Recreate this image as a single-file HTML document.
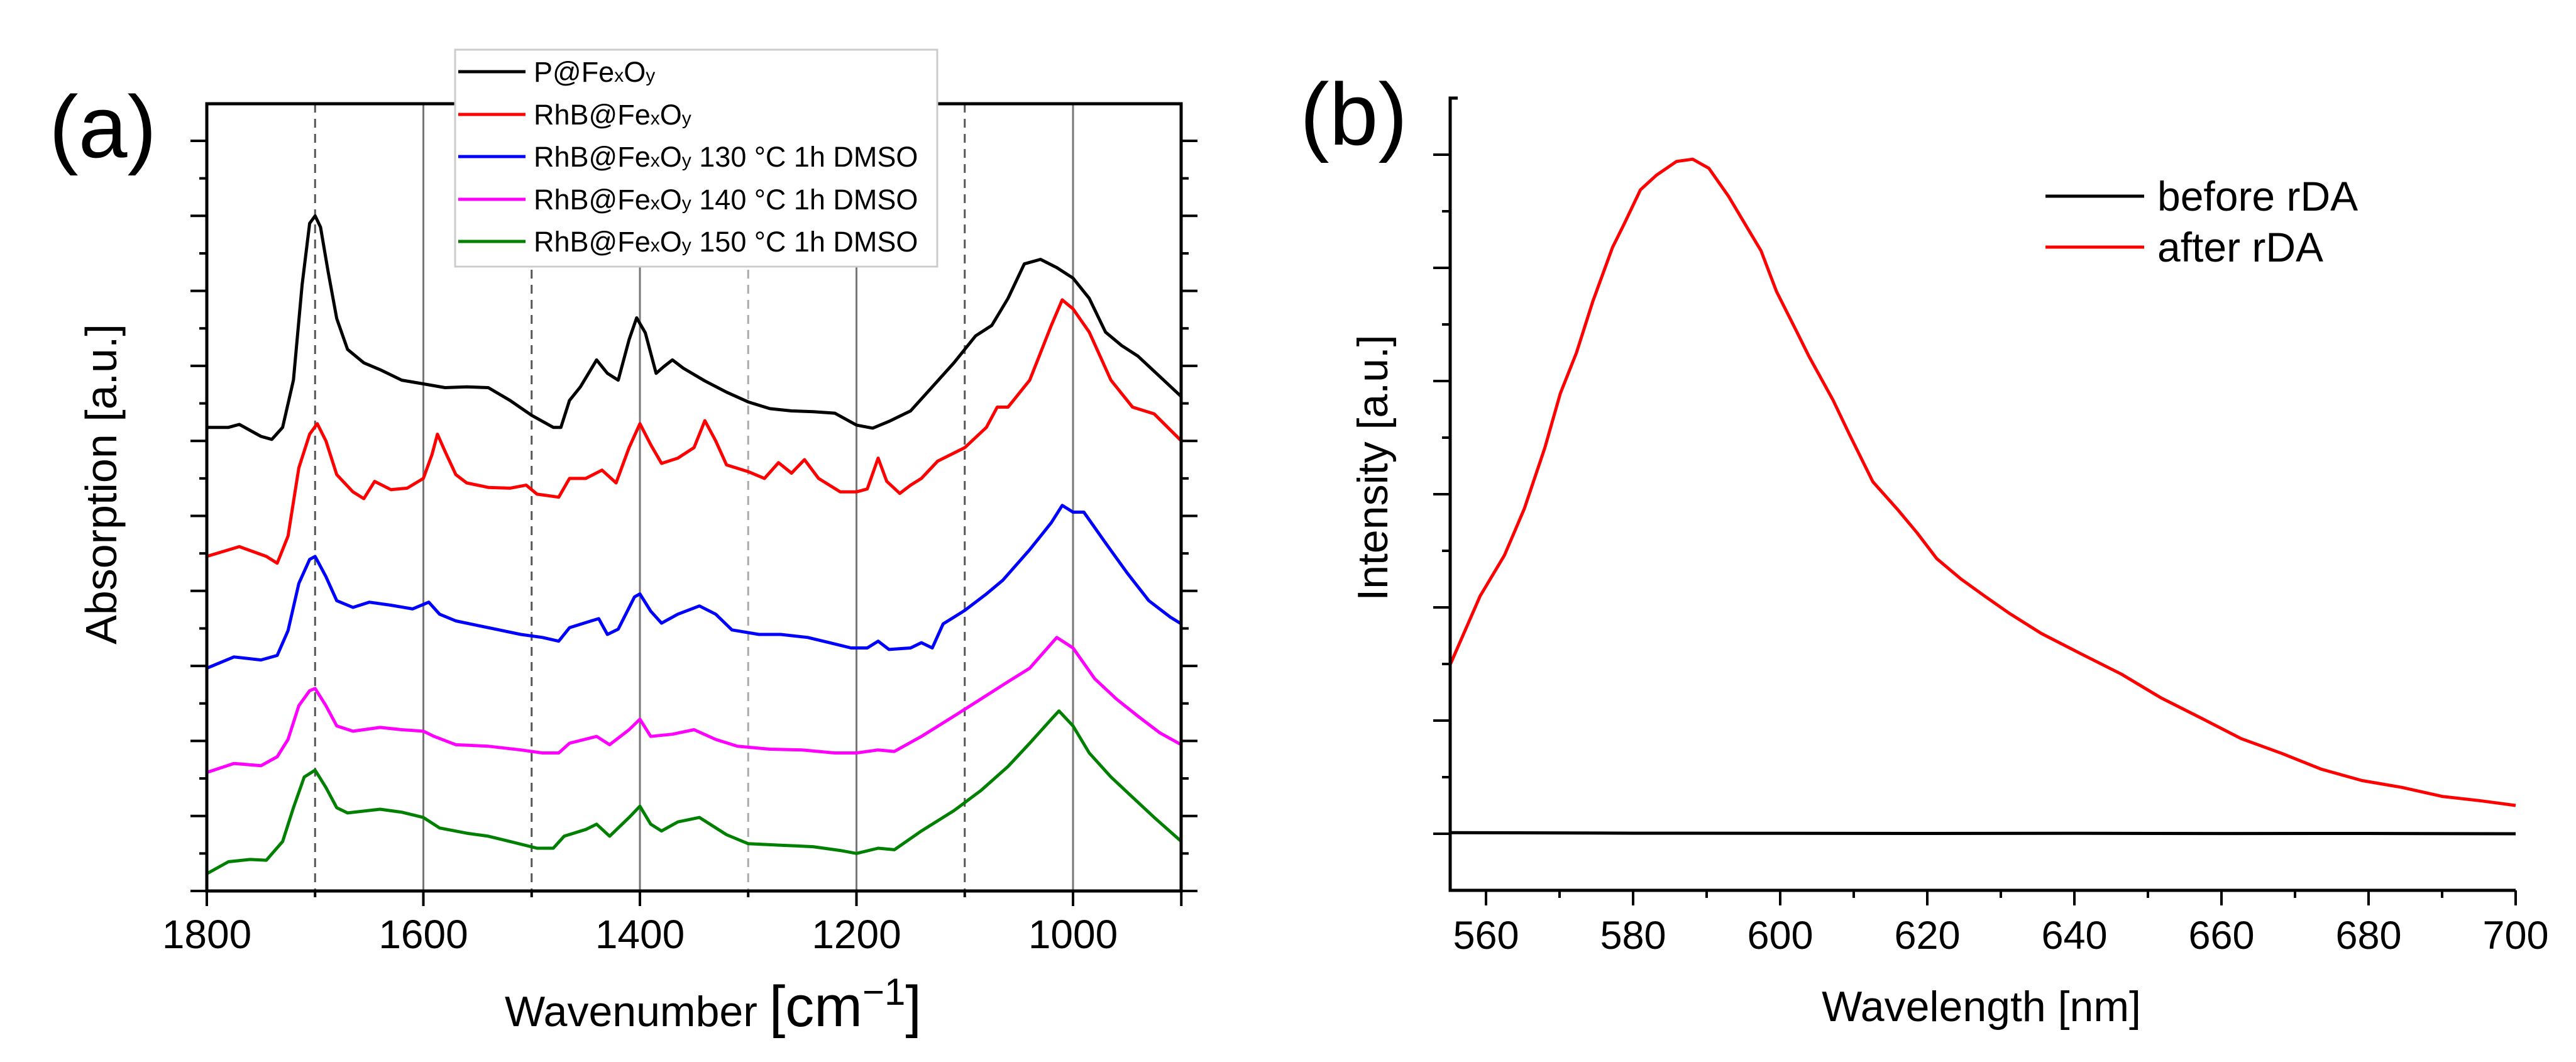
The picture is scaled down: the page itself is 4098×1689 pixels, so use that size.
<!DOCTYPE html>
<html><head><meta charset="utf-8"><style>
html,body{margin:0;padding:0;background:#fff;}
svg{display:block;font-family:"Liberation Sans",sans-serif;}
</style></head><body>
<svg id="fig" width="4098" height="1689" viewBox="0 0 4098 1689" xmlns="http://www.w3.org/2000/svg">
<rect width="4098" height="1689" fill="#fff"/>
<g id="pa"></g>
<g id="pb"></g>
</svg>
<script>
// ---------- Panel (a) data ----------
const kWn = [1800,1780,1770,1750,1740,1730,1720,1712,1705,1700,1695,1688,1680,1670,1655,1640,1620,1600,1580,1560,1540,1520,1500,1480,1473,1465,1455,1440,1430,1420,1410,1403,1395,1385,1378,1370,1360,1340,1320,1300,1280,1260,1240,1220,1200,1185,1170,1150,1130,1110,1090,1075,1060,1045,1030,1015,1000,985,970,955,940,920,900];
const kVal = [6.18,6.18,6.22,6.06,6.02,6.18,6.81,8.08,8.90,9.00,8.85,8.26,7.63,7.22,7.04,6.95,6.81,6.76,6.71,6.72,6.71,6.54,6.34,6.18,6.18,6.54,6.72,7.08,6.90,6.81,7.35,7.64,7.44,6.90,6.99,7.08,6.97,6.80,6.65,6.52,6.43,6.40,6.39,6.37,6.21,6.17,6.26,6.40,6.72,7.04,7.40,7.54,7.90,8.36,8.42,8.31,8.17,7.90,7.45,7.27,7.13,6.86,6.59];
const rWn = [1800,1770,1745,1735,1725,1715,1705,1698,1690,1680,1665,1655,1645,1630,1615,1600,1592,1587,1580,1570,1560,1540,1520,1505,1495,1475,1465,1450,1435,1422,1410,1400,1390,1380,1365,1350,1340,1330,1320,1300,1285,1272,1260,1248,1235,1215,1200,1190,1180,1172,1160,1150,1140,1125,1100,1080,1070,1060,1040,1020,1010,1000,985,965,945,925,900];
const rVal = [4.46,4.59,4.46,4.37,4.73,5.64,6.09,6.23,6.00,5.55,5.32,5.23,5.46,5.35,5.37,5.50,5.82,6.09,5.86,5.55,5.44,5.38,5.37,5.41,5.29,5.25,5.50,5.50,5.61,5.44,5.91,6.23,5.95,5.70,5.77,5.91,6.27,6.00,5.68,5.59,5.50,5.71,5.57,5.75,5.50,5.32,5.32,5.36,5.77,5.46,5.30,5.41,5.50,5.73,5.91,6.18,6.45,6.45,6.81,7.54,7.88,7.76,7.45,6.81,6.45,6.36,6.00];
const bWn = [1800,1775,1750,1735,1725,1715,1705,1700,1690,1680,1665,1650,1630,1610,1595,1585,1570,1550,1530,1510,1490,1475,1465,1445,1438,1430,1420,1405,1400,1390,1380,1365,1345,1330,1315,1290,1270,1245,1225,1205,1190,1180,1170,1150,1140,1130,1120,1100,1080,1065,1040,1020,1010,1000,990,970,950,930,910,900];
const bVal = [2.97,3.12,3.08,3.14,3.47,4.10,4.42,4.46,4.19,3.87,3.78,3.85,3.81,3.76,3.85,3.69,3.60,3.54,3.48,3.42,3.38,3.33,3.51,3.60,3.63,3.42,3.49,3.92,3.96,3.73,3.57,3.69,3.80,3.69,3.48,3.42,3.42,3.38,3.31,3.24,3.24,3.33,3.22,3.24,3.31,3.24,3.56,3.74,3.96,4.14,4.55,4.91,5.14,5.05,5.05,4.64,4.24,3.87,3.65,3.56];
const mWn = [1800,1775,1750,1735,1725,1715,1705,1700,1690,1680,1665,1640,1620,1600,1590,1570,1540,1510,1490,1475,1465,1440,1428,1410,1400,1390,1370,1350,1330,1310,1280,1250,1220,1200,1180,1165,1140,1110,1085,1060,1040,1015,1000,980,960,940,920,900];
const mVal = [1.58,1.70,1.67,1.79,2.02,2.47,2.67,2.70,2.47,2.20,2.13,2.18,2.15,2.13,2.06,1.95,1.93,1.88,1.84,1.84,1.97,2.06,1.95,2.15,2.29,2.06,2.09,2.15,2.02,1.93,1.89,1.88,1.84,1.84,1.88,1.86,2.06,2.33,2.56,2.79,2.97,3.38,3.24,2.83,2.56,2.33,2.11,1.95];
const gWn = [1800,1780,1760,1745,1730,1720,1710,1700,1690,1680,1670,1640,1620,1600,1585,1560,1540,1520,1495,1480,1470,1450,1440,1428,1410,1400,1390,1380,1365,1345,1320,1300,1270,1240,1215,1200,1180,1165,1140,1110,1085,1060,1040,1020,1013,1000,985,965,945,925,900];
const gVal = [0.23,0.39,0.42,0.41,0.66,1.11,1.52,1.61,1.38,1.11,1.04,1.09,1.05,0.98,0.84,0.77,0.73,0.66,0.57,0.57,0.73,0.82,0.89,0.73,0.98,1.13,0.89,0.80,0.92,0.98,0.75,0.63,0.61,0.59,0.54,0.50,0.57,0.55,0.80,1.07,1.34,1.66,1.97,2.29,2.40,2.20,1.84,1.52,1.25,0.98,0.66];
const aXTicks = [1800,1600,1400,1200,1000];
const aXTickLabels = ["1800","1600","1400","1200","1000"];
const aSolidGrid = [1600,1400,1200,1000];
const aDashGrid = [1700,1500,1100];
const aLightDashGrid = [1300];
const aLegendLabels = ["", " 130 °C 1h DMSO"," 140 °C 1h DMSO"," 150 °C 1h DMSO"];

// ---------- Panel (b) data ----------
const afterWl = [555.1,559.2,562.5,565.2,568,570.1,572.3,574.5,577.2,578.8,581,583.2,585.9,588.1,590.3,593,595.2,597.4,599.5,602.3,603.9,607.2,609.4,612.6,615.9,618.6,621.3,624.6,627.8,631.1,635.5,640.9,646.4,651.8,657.3,662.7,668.2,673.6,679.1,684.5,690,695.4,700];
const afterVal = [1.49,2.10,2.46,2.87,3.41,3.89,4.25,4.70,5.18,5.39,5.69,5.82,5.94,5.96,5.88,5.63,5.39,5.15,4.79,4.43,4.22,3.83,3.53,3.11,2.87,2.66,2.43,2.25,2.10,1.95,1.77,1.59,1.41,1.20,1.02,0.84,0.71,0.57,0.47,0.41,0.33,0.29,0.25];
const beforeWl = [555.1,580,600,620,640,660,680,700];
const beforeVal = [0.01,0.005,0.004,0.003,0.004,0.002,0.003,0.0];
const bXTicks = [560,580,600,620,640,660,680,700];
const bXTickLabels = ["560","580","600","620","640","660","680","700"];

const NS = "http://www.w3.org/2000/svg";
function mk(parent, tag, attrs, text){
  const e = document.createElementNS(NS, tag);
  for (const k in attrs) e.setAttribute(k, attrs[k]);
  if (text !== undefined) e.textContent = text;
  parent.appendChild(e); return e;
}
// axis functions
const ax = { x0:329, x1:1879, y0:1417, y1:165 };
const aX = v => ax.x0 + (1800 - v) * 1.7225;
const aY = v => ax.y0 - v * 119.3;
const bx = { x0:2307, x1:4002, y0:1416, y1:156 };
const bX = v => 2364 + (v - 560) * 11.7;
const bY = v => 1326 - v * 180;

const pa = document.getElementById('pa');
// grid lines panel a
aSolidGrid.forEach(v=>{
  const l = mk(pa,'line',{x1:aX(v),x2:aX(v),y1:ax.y1,y2:ax.y0,stroke:'#777','stroke-width':3});
  
  
});
aDashGrid.forEach(v=>{
  const l = mk(pa,'line',{x1:aX(v),x2:aX(v),y1:ax.y1,y2:ax.y0,stroke:'#555','stroke-width':3,'stroke-dasharray':'14,10'});
  
  
});
aLightDashGrid.forEach(v=>{
  const l = mk(pa,'line',{x1:aX(v),x2:aX(v),y1:ax.y1,y2:ax.y0,stroke:'#aaa','stroke-width':3,'stroke-dasharray':'14,10'});
  
  
});
// series a
const aSeries = [[kWn,kVal,'#000','series-p-fexoy'],[rWn,rVal,'#ff0000','series-rhb-fexoy'],[bWn,bVal,'#0000ff','series-130c'],[mWn,mVal,'#ff00ff','series-140c'],[gWn,gVal,'#008000','series-150c']];
aSeries.forEach(s=>{
  const d = s[0].map((w,i)=>(i?'L':'M')+aX(w).toFixed(1)+','+aY(s[1][i]).toFixed(1)).join(' ');
  const p = mk(pa,'path',{d:d,fill:'none',stroke:s[2],'stroke-width':5,'stroke-linejoin':'round'});
  
  
});
// frame a
const fa = mk(pa,'rect',{x:ax.x0,y:ax.y1,width:ax.x1-ax.x0,height:ax.y0-ax.y1,fill:'none',stroke:'#000','stroke-width':5});


// y ticks a (left and right, outward)
for(let i=0;i<=21;i++){
  const y = ax.y0 - i*59.65;
  if (y < ax.y1 + 5) break;
  const len = (i%2===0)?26:12;
  const t1 = mk(pa,'line',{x1:ax.x0-len,x2:ax.x0,y1:y,y2:y,stroke:'#000','stroke-width':4});
  
  
  const t2 = mk(pa,'line',{x1:ax.x1,x2:ax.x1+len,y1:y,y2:y,stroke:'#000','stroke-width':4});
  
  
}
// x ticks a
for(let v=1800; v>=900; v-=100){
  const major = aXTicks.includes(v) || v===900;
  const t = mk(pa,'line',{x1:aX(v),x2:aX(v),y1:ax.y0,y2:ax.y0+(major?24:10),stroke:'#000','stroke-width':4});
  
  
}
aXTicks.forEach((v,i)=>{
  const t = mk(pa,'text',{x:aX(v),y:1508,'font-size':64,'text-anchor':'middle'},aXTickLabels[i]);
  
  
});
// titles a
const xt = mk(pa,'text',{x:803,y:1632,'font-size':68});


mk(xt,'tspan',{},'Wavenumber ');
mk(xt,'tspan',{'font-size':92},'[cm');
mk(xt,'tspan',{'font-size':60,dy:-34},'−1');
mk(xt,'tspan',{'font-size':92,dy:34},']');
const yt = mk(pa,'text',{x:0,y:0,'font-size':70,'text-anchor':'middle',transform:'translate(185,770) rotate(-90)'},'Absorption [a.u.]');


const la = mk(pa,'text',{x:78,y:250,'font-size':140},'(a)');


// legend a
const lg = mk(pa,'g',{});


mk(lg,'rect',{x:724,y:79,width:767,height:345,fill:'#fff',stroke:'#ccc','stroke-width':3});
const legRows = [114,182,249,317,384];
aSeries.forEach((s,i)=>{
  const e = mk(lg,'g',{});
  
  
  mk(e,'line',{x1:729,x2:836,y1:legRows[i],y2:legRows[i],stroke:s[2],'stroke-width':5});
  const t = mk(e,'text',{x:849,y:legRows[i]+16,'font-size':45});
  mk(t,'tspan',{},i===0?'P@Fe':'RhB@Fe');
  mk(t,'tspan',{'font-size':30},'x');
  mk(t,'tspan',{},'O');
  mk(t,'tspan',{'font-size':30},'y');
  if(i>=2) mk(t,'tspan',{},aLegendLabels[i-1]);
});

// ---------- Panel b ----------
const pb = document.getElementById('pb');
[[beforeWl,beforeVal,'#000','series-before-rda'],[afterWl,afterVal,'#ff0000','series-after-rda']].forEach(s=>{
  const d = s[0].map((w,i)=>(i?'L':'M')+bX(w).toFixed(1)+','+bY(s[1][i]).toFixed(1)).join(' ');
  const p = mk(pb,'path',{d:d,fill:'none',stroke:s[2],'stroke-width':5,'stroke-linejoin':'round'});
  
  
});
const axl = mk(pb,'path',{d:`M${bx.x0+12},${bx.y1} L${bx.x0},${bx.y1} L${bx.x0},${bx.y0} L${bx.x1},${bx.y0}`,fill:'none',stroke:'#000','stroke-width':5});


for(let i=-1;i<=13;i++){
  const y = 1326 - i*90;
  if (y > bx.y0 - 5 || y < bx.y1 + 20) continue;
  const len = (i%2===0)?27:13;
  const t = mk(pb,'line',{x1:bx.x0-len,x2:bx.x0,y1:y,y2:y,stroke:'#000','stroke-width':4});
  
  
}
for(let v=560; v<=700; v+=10){
  const major = v%20===0;
  const t = mk(pb,'line',{x1:bX(v),x2:bX(v),y1:bx.y0,y2:bx.y0+(major?24:12),stroke:'#000','stroke-width':4});
  
  
}
bXTicks.forEach((v,i)=>{
  const t = mk(pb,'text',{x:bX(v),y:1509,'font-size':63,'text-anchor':'middle'},bXTickLabels[i]);
  
  
});
const xtb = mk(pb,'text',{x:3152,y:1624,'font-size':68,'text-anchor':'middle'},'Wavelength [nm]');


const ytb = mk(pb,'text',{x:0,y:0,'font-size':68,'text-anchor':'middle',transform:'translate(2207,744) rotate(-90)'},'Intensity [a.u.]');


const lb = mk(pb,'text',{x:2068,y:230,'font-size':140},'(b)');


[['before rDA','#000',312],['after rDA','#ff0000',393]].forEach(r=>{
  const e = mk(pb,'g',{});
  
  
  mk(e,'line',{x1:3254,x2:3411,y1:r[2],y2:r[2],stroke:r[1],'stroke-width':5});
  mk(e,'text',{x:3432,y:r[2]+23,'font-size':66},r[0]);
});
</script>
</body></html>
